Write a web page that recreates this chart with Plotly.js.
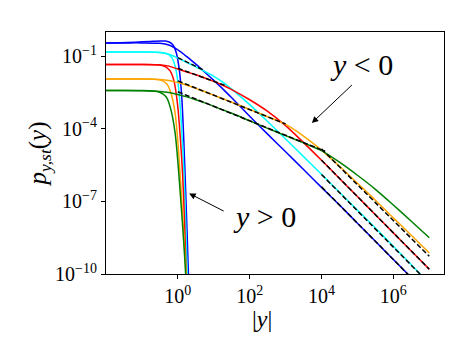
<!DOCTYPE html>
<html>
<head>
<meta charset="utf-8">
<script src="https://cdn.plot.ly/plotly-3.0.1.min.js"></script>
<style>html,body{margin:0;padding:0;background:#fff;}#chart{width:469px;height:351px;}</style>
</head>
<body>
<div id="chart"></div>
<script>
// ---- data (log10 values) ----
const colors = ['blue', 'cyan', 'red', 'orange', 'green'];

// y < 0 branches: shared |y| grid (log10)
const lxNeg = [-2,-1.5,-1,-0.5,-0.25,0,0.25,0.5,0.75,1,1.25,1.5,2,2.5,3,3.5,4,4.5,5,5.5,6,6.5,7];
const blueNeg   = [-0.45,-0.45,-0.45,-0.47,-0.54,-0.74,-1.02,-1.33,-1.66,-2.0,-2.35,-2.72,-3.48,-4.22,-4.95,-5.68,-6.42,-7.15,-7.9,-8.65,-9.4,-10.15,-10.9];
const cyanNeg   = [-0.83,-0.83,-0.83,-0.85,-0.92,-1.08,-1.26,-1.44,-1.63,-1.83,-2.07,-2.36,-3.0,-3.7,-4.42,-5.15,-5.88,-6.62,-7.36,-8.1,-8.85,-9.62,-10.4];
const redNeg    = [-1.34,-1.34,-1.34,-1.36,-1.41,-1.53,-1.65,-1.77,-1.9,-2.04,-2.2,-2.38,-2.8,-3.28,-3.87,-4.57,-5.3,-6.05,-6.8,-7.55,-8.3,-9.05,-9.8];
const orangeNeg = [-1.94,-1.94,-1.94,-1.96,-2.0,-2.09,-2.2,-2.33,-2.47,-2.61,-2.76,-2.9,-3.2,-3.5,-3.82,-4.3,-4.88,-5.55,-6.25,-6.95,-7.68,-8.4,-9.13];
const greenNeg  = [-2.42,-2.42,-2.43,-2.46,-2.5,-2.58,-2.68,-2.8,-2.93,-3.07,-3.22,-3.36,-3.67,-3.98,-4.28,-4.58,-4.9,-5.38,-5.92,-6.5,-7.15,-7.82,-8.5];

// y > 0 branches (log10 |y|, log10 p)
const blueX   = [-2,-1.61,-1.19,-0.77,-0.49,-0.35,-0.24,-0.13,-0.047,0.036,0.106,0.16,0.217,0.26,0.295,0.32];
const blueY   = [-0.45,-0.442,-0.421,-0.388,-0.368,-0.372,-0.413,-0.545,-0.835,-1.5,-2.61,-4.26,-6.54,-8.4,-10.0,-11.0];
const cyanX   = [-2,-1,-0.6,-0.41,-0.27,-0.16,-0.061,0.022,0.092,0.16,0.217,0.26,0.285];
const cyanY   = [-0.83,-0.83,-0.835,-0.855,-0.917,-1.08,-1.5,-2.32,-3.64,-5.5,-7.78,-10.0,-11.0];
const redX    = [-2,-1,-0.49,-0.35,-0.21,-0.1,-0.006,0.064,0.134,0.19,0.23,0.255];
const redY    = [-1.34,-1.34,-1.36,-1.43,-1.62,-2.07,-3.02,-4.26,-5.92,-7.98,-10.0,-11.0];
const orangeX = [-2,-1,-0.63,-0.44,-0.3,-0.19,-0.075,0.008,0.092,0.175,0.23,0.255];
const orangeY = [-1.94,-1.94,-1.95,-2.01,-2.16,-2.53,-3.36,-4.68,-6.54,-8.6,-10.0,-11.0];
const greenX  = [-2,-1,-0.77,-0.55,-0.41,-0.3,-0.19,-0.075,0.008,0.092,0.16,0.217,0.24];
const greenY  = [-2.42,-2.42,-2.43,-2.47,-2.57,-2.74,-3.23,-4.18,-5.5,-7.16,-8.6,-10.0,-11.0];

// black dashed asymptotes (log10 endpoints)
const midX = [[0,0.75],[0,1.3],[0,3],[0,4.1]];
const midY = [[-1.06,-1.6],[-1.5,-2.2],[-2.02,-3.8],[-2.47,-4.93]];
const farX = [[4,7],[4,7],[4,7],[4,7]];
const farY = [[-6.4,-10.9],[-5.89,-10.39],[-5.3,-9.8],[-4.83,-9.27]];

// tick labels
const xTickVals = [1, 100, 1e4, 1e6];
const xTickText = ['10<sup>0</sup>','10<sup>2</sup>','10<sup>4</sup>','10<sup>6</sup>'];
const yTickVals = [1e-10, 1e-7, 1e-4, 1e-1];
const yTickText = ['10<sup>\u221210</sup>','10<sup>\u22127</sup>','10<sup>\u22124</sup>','10<sup>\u22121</sup>'];

// ---- build traces ----
const p10 = a => a.map(v => Math.pow(10, v));
const negSeries = [blueNeg, cyanNeg, redNeg, orangeNeg, greenNeg];
const posX = [blueX, cyanX, redX, orangeX, greenX];
const posY = [blueY, cyanY, redY, orangeY, greenY];
const traces = [];
for (let i = 0; i < colors.length; i++) {
  traces.push({x: p10(posX[i]), y: p10(posY[i]), mode: 'lines',
    line: {color: colors[i], width: 1.5, shape: 'spline', smoothing: 0.8}, hoverinfo: 'skip'});
  traces.push({x: p10(lxNeg), y: p10(negSeries[i]), mode: 'lines',
    line: {color: colors[i], width: 1.5, shape: 'spline', smoothing: 0.8}, hoverinfo: 'skip'});
}
for (let i = 0; i < midX.length; i++) {
  traces.push({x: p10(midX[i]), y: p10(midY[i]), mode: 'lines',
    line: {color: 'black', width: 1.5, dash: '5px,2.5px'}, hoverinfo: 'skip'});
}
for (let i = 0; i < farX.length; i++) {
  traces.push({x: p10(farX[i]), y: p10(farY[i]), mode: 'lines',
    line: {color: 'black', width: 1.5, dash: '5px,2.5px'}, hoverinfo: 'skip'});
}

const serif = '"Liberation Serif", "DejaVu Serif", serif';
const layout = {
  width: 469, height: 351,
  margin: {l: 106, r: 25, t: 32, b: 77},
  paper_bgcolor: '#fff', plot_bgcolor: '#fff',
  showlegend: false,
  font: {family: serif, color: 'black'},
  xaxis: {
    type: 'log', range: [-2, 7.41],
    tickvals: xTickVals, ticktext: xTickText,
    ticks: 'outside', ticklen: 4, tickwidth: 1, tickcolor: 'black',
    showline: true, mirror: true, linecolor: 'black', linewidth: 1,
    showgrid: false, zeroline: false,
    tickfont: {family: serif, size: 20, color: 'black'}
  },
  yaxis: {
    type: 'log', range: [-10, 0],
    tickvals: yTickVals, ticktext: yTickText,
    ticks: 'outside', ticklen: 4, tickwidth: 1, tickcolor: 'black',
    showline: true, mirror: true, linecolor: 'black', linewidth: 1,
    showgrid: false, zeroline: false,
    tickfont: {family: serif, size: 20, color: 'black'},
    title: {text: '<i>p</i><sub><i>y,st</i></sub>(<i>y</i>)', font: {family: serif, size: 25, color: 'black'}, standoff: 1}
  },
  annotations: [
    {x: 0.4615, y: -0.188, xref: 'paper', yref: 'paper', text: '|<i>y</i>|', showarrow: false,
     xanchor: 'center', yanchor: 'middle', font: {family: serif, size: 24, color: 'black'}},
    {x: 3.73, y: -3.76, xref: 'x', yref: 'y', ax: 41.6, ay: -39.4, text: '',
     showarrow: true, arrowhead: 2, arrowsize: 1.3, arrowwidth: 1, arrowcolor: 'black'},
    {x: 0.315, y: -6.67, xref: 'x', yref: 'y', ax: 36, ay: 18.4, text: '',
     showarrow: true, arrowhead: 2, arrowsize: 1.3, arrowwidth: 1, arrowcolor: 'black'},
    {x: 5.11, y: -1.33, xref: 'x', yref: 'y', text: '<i>y</i> &lt; 0', showarrow: false,
     font: {family: serif, size: 30, color: 'black'}},
    {x: 2.41, y: -7.61, xref: 'x', yref: 'y', text: '<i>y</i> &gt; 0', showarrow: false,
     font: {family: serif, size: 30, color: 'black'}}
  ]
};
Plotly.newPlot('chart', traces, layout, {staticPlot: true, displayModeBar: false});
</script>
</body>
</html>
